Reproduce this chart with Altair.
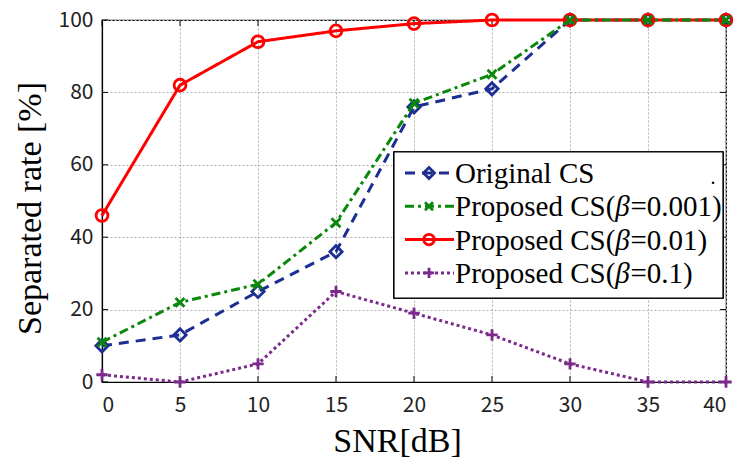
import altair as alt
import pandas as pd

snr = [0, 5, 10, 15, 20, 25, 30, 35, 40]
rate_ticks = [0, 20, 40, 60, 80, 100]
original_cs = [10, 13, 25, 36, 76, 81, 100, 100, 100]
proposed_0001 = [11, 22, 27, 44, 77, 85, 100, 100, 100]
proposed_001 = [46, 82, 94, 97, 99, 100, 100, 100, 100]
proposed_01 = [2, 0, 5, 25, 19, 13, 5, 0, 0]

name_head = "Proposed CS("
beta_vals = ["=0.001)", "=0.01)", "=0.1)"]
names = ["Original CS"] + [name_head + "β" + v for v in beta_vals]
values = [original_cs, proposed_0001, proposed_001, proposed_01]
colors = ["#1C2E92", "#0B870B", "#FF0000", "#7B2A8C"]
dashes = [[10, 7], [9, 4, 3, 4], [1, 0], [3, 3]]
X_PATH = "M-1,-1L1,1M-1,1L1,-1"
PLUS_PATH = "M-1,0L1,0M0,-1L0,1"
shapes = ["diamond", X_PATH, "circle", PLUS_PATH]
sizes = [150, 80, 140, 130]

W, H = 624, 362
x_scale = alt.Scale(domain=[0, 40], nice=False)
y_scale = alt.Scale(domain=[0, 100], nice=False)

x_axis = alt.Axis(values=snr, title="SNR[dB]", grid=True, gridDash=[2, 2], gridColor="#b0b0b0",
                  labelFont="Noto Sans CJK JP", labelFontSize=21, labelColor="#222222",
                  labelPadding=12, tickSize=0, domainColor="#000000", domainWidth=1.2,
                  titleFont="Liberation Serif", titleFontSize=34, titleFontWeight="normal",
                  titleColor="#000000", titleX=295, titleY=69, titleBaseline="alphabetic")
y_axis = alt.Axis(values=rate_ticks, title="Separated rate [%]", grid=True,
                  gridDash=[2, 2], gridColor="#b0b0b0",
                  labelFont="Noto Sans CJK JP", labelFontSize=21, labelColor="#222222",
                  labelPadding=9, tickSize=0, domainColor="#000000", domainWidth=1.2,
                  titleFont="Liberation Serif", titleFontSize=34, titleFontWeight="normal",
                  titleColor="#000000", titleX=-72, titleY=188, titleBaseline="middle")

layers = []

# inner tick marks (MATLAB style)
xt = alt.Chart(pd.DataFrame({"snr": snr}))
yt = alt.Chart(pd.DataFrame({"rate": rate_ticks}))
layers.append(xt.mark_rule(color="#000000", strokeWidth=1).encode(
    x=alt.X("snr:Q", scale=x_scale, axis=x_axis), y=alt.value(H), y2=alt.value(H - 6)))
layers.append(xt.mark_rule(color="#000000", strokeWidth=1).encode(
    x=alt.X("snr:Q", scale=x_scale), y=alt.value(0), y2=alt.value(6)))
layers.append(yt.mark_rule(color="#000000", strokeWidth=1).encode(
    y=alt.Y("rate:Q", scale=y_scale, axis=y_axis), x=alt.value(0), x2=alt.value(6)))
layers.append(yt.mark_rule(color="#000000", strokeWidth=1).encode(
    y=alt.Y("rate:Q", scale=y_scale), x=alt.value(W), x2=alt.value(W - 6)))

order = [3, 0, 2, 1]
for i in order:
    df = pd.DataFrame({"snr": snr, "rate": values[i]})
    base = alt.Chart(df)
    enc = dict(x=alt.X("snr:Q", scale=x_scale), y=alt.Y("rate:Q", scale=y_scale))
    line = base.mark_line(color=colors[i], strokeWidth=3, strokeDash=dashes[i], clip=False).encode(**enc)
    pts = base.mark_point(shape=shapes[i], color=colors[i], filled=False, strokeWidth=2.8,
                          size=sizes[i], opacity=1, clip=False).encode(**enc)
    layers += [line, pts]

# legend box
legend_df = pd.DataFrame({"name": names})
box = alt.Chart(legend_df).mark_rect(fill="white", stroke="#000000", strokeWidth=1.2).encode(
    x=alt.value(292), x2=alt.value(621), y=alt.value(132), y2=alt.value(278))
layers.append(box)
FS = 29
head_w = 5.528 * FS
for i in range(4):
    yy = 153 + 33.3 * i
    b = alt.Chart(pd.DataFrame({"name": [names[i]]}))
    layers.append(b.mark_rule(color=colors[i], strokeWidth=3, strokeDash=dashes[i]).encode(
        x=alt.value(303), x2=alt.value(352), y=alt.value(yy)))
    layers.append(b.mark_point(shape=shapes[i], color=colors[i], filled=False, strokeWidth=2.8,
                               size=sizes[i] * 0.8, opacity=1).encode(x=alt.value(327), y=alt.value(yy)))
    txt = dict(align="left", baseline="middle", font="Liberation Serif", fontSize=FS, color="#000000")
    if i == 0:
        layers.append(b.mark_text(**txt).encode(x=alt.value(353), y=alt.value(yy + 1), text="name:N"))
    else:
        parts = [(name_head, 353, "normal"), ("β", 353 + head_w, "italic"),
                 (beta_vals[i - 1], 353 + head_w + 0.52 * FS, "normal")]
        for s, xx, st in parts:
            layers.append(alt.Chart(pd.DataFrame({"t": [s]})).mark_text(fontStyle=st, **txt).encode(
                x=alt.value(xx), y=alt.value(yy + 1), text="t:N"))
layers.append(alt.Chart(pd.DataFrame({"t": ["."]})).mark_text(
    font="Liberation Serif", fontSize=20, color="#000000").encode(
    x=alt.value(611), y=alt.value(158), text="t:N"))

chart = alt.layer(*layers).properties(
    width=W, height=H,
    background="white",
    autosize=alt.AutoSizeParams(type="none"),
    padding={"left": 94, "top": 12, "right": 7, "bottom": 75},
).configure_view(stroke="#000000", strokeWidth=1.2)

chart.save("out.html", embed_options={"renderer": "svg", "actions": False})
